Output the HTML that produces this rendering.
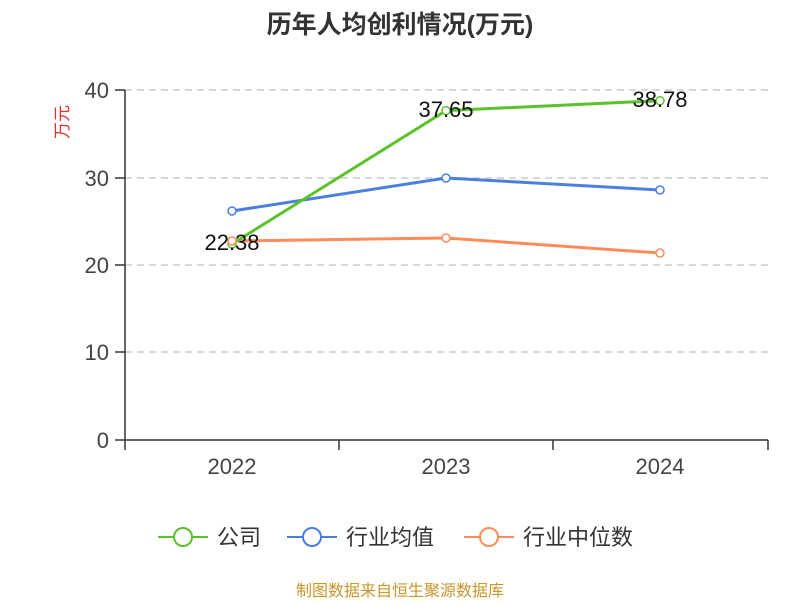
<!DOCTYPE html>
<html><head><meta charset="utf-8"><style>
body{margin:0;background:#fff;width:800px;height:600px;overflow:hidden}
text{font-family:"Liberation Sans","Noto Sans CJK SC",sans-serif}
</style></head><body>
<svg width="800" height="600" viewBox="0 0 800 600" xmlns="http://www.w3.org/2000/svg">
<text x="400" y="33" text-anchor="middle" font-size="25" font-weight="bold" fill="#333">历年人均创利情况(万元)</text>
<text transform="translate(68,122) rotate(-90)" text-anchor="middle" font-size="17" fill="#e5332d">万元</text>
<g stroke="#ccc" stroke-width="1.5" stroke-dasharray="7,5">
<line x1="125" y1="90" x2="768" y2="90"/><line x1="125" y1="178" x2="768" y2="178"/>
<line x1="125" y1="265" x2="768" y2="265"/><line x1="125" y1="352" x2="768" y2="352"/>
</g>
<g stroke="#333" stroke-width="1.5">
<line x1="125" y1="90" x2="125" y2="440"/><line x1="125" y1="440" x2="768" y2="440"/>
<line x1="115" y1="90" x2="125" y2="90"/><line x1="115" y1="178" x2="125" y2="178"/>
<line x1="115" y1="265" x2="125" y2="265"/><line x1="115" y1="352" x2="125" y2="352"/>
<line x1="115" y1="440" x2="125" y2="440"/>
<line x1="125" y1="440" x2="125" y2="450"/><line x1="339" y1="440" x2="339" y2="450"/>
<line x1="553" y1="440" x2="553" y2="450"/><line x1="768" y1="440" x2="768" y2="450"/>
</g>
<g font-size="22" fill="#444" text-anchor="end">
<text x="109" y="98">40</text><text x="109" y="186">30</text><text x="109" y="273">20</text>
<text x="109" y="360">10</text><text x="109" y="448">0</text>
</g>
<g font-size="22" fill="#444" text-anchor="middle">
<text x="232" y="474">2022</text><text x="446" y="474">2023</text><text x="660" y="474">2024</text>
</g>
<g fill="#fff" stroke-width="3">
<polyline points="232,211 446,178 660,190" fill="none" stroke="#4a7fe0"/>
<polyline points="232,241 446,238 660,253" fill="none" stroke="#ff8c5a"/>
<polyline points="232,244 446,110.6 660,100.7" fill="none" stroke="#5cc22a"/>
</g>
<g fill="#fff" stroke-width="1.5">
<circle cx="232" cy="211" r="4" stroke="#4a7fe0"/><circle cx="446" cy="178" r="4" stroke="#4a7fe0"/><circle cx="660" cy="190" r="4" stroke="#4a7fe0"/>
<circle cx="232" cy="244" r="4" stroke="#5cc22a"/><circle cx="446" cy="110.6" r="4" stroke="#5cc22a"/><circle cx="660" cy="100.7" r="4" stroke="#5cc22a"/>
<circle cx="232" cy="241" r="4" stroke="#ff8c5a"/><circle cx="446" cy="238" r="4" stroke="#ff8c5a"/><circle cx="660" cy="253" r="4" stroke="#ff8c5a"/>
</g>
<g font-size="22" fill="#111" text-anchor="middle">
<text x="232" y="250">22.38</text><text x="446" y="117">37.65</text><text x="660" y="107">38.78</text>
</g>
<g stroke-width="2" fill="#fff" font-size="22">
<line x1="158" y1="537" x2="208" y2="537" stroke="#5cc22a"/><circle cx="183" cy="537" r="9" stroke="#5cc22a"/>
<text x="217" y="545" fill="#333" stroke="none">公司</text>
<line x1="287" y1="537" x2="337" y2="537" stroke="#4a7fe0"/><circle cx="312" cy="537" r="9" stroke="#4a7fe0"/>
<text x="346" y="545" fill="#333" stroke="none">行业均值</text>
<line x1="464" y1="537" x2="514" y2="537" stroke="#ff8c5a"/><circle cx="489" cy="537" r="9" stroke="#ff8c5a"/>
<text x="523" y="545" fill="#333" stroke="none">行业中位数</text>
</g>
<text x="400" y="596" text-anchor="middle" font-size="16" fill="#c8962a">制图数据来自恒生聚源数据库</text>
</svg>
</body></html>
